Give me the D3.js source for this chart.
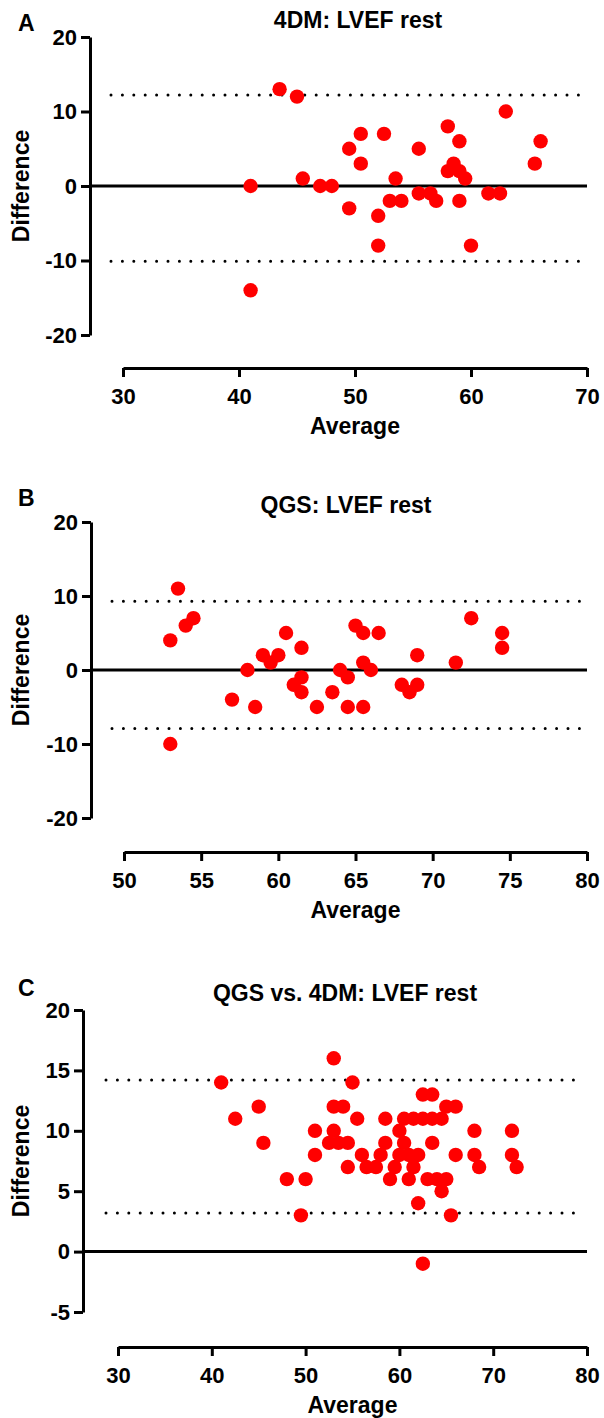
<!DOCTYPE html>
<html>
<head>
<meta charset="utf-8">
<script src="https://cdn.jsdelivr.net/npm/d3@7"></script>
<style>
  body { margin: 0; background: #fff; }
  svg text { font-family: "Liberation Sans", Arial, sans-serif; font-weight: bold; fill: #000; }
</style>
</head>
<body>
<svg id="chart" width="604" height="1418"></svg>
<script>
// A: 4DM LVEF rest
const avgA  = [41, 41, 43.5, 45, 45.5, 47, 48, 49.5, 49.5, 50.5, 50.5, 52, 52, 52.5, 53, 53.5, 54,
               55.5, 55.5, 56.5, 57, 58, 58, 58.5, 59, 59, 59, 59.5, 60, 61.5, 62.5, 63, 65.5, 66];
const diffA = [0, -14, 13, 12, 1, 0, 0, 5, -3, 7, 3, -4, -8, 7, -2, 1, -2,
               5, -1, -1, -2, 8, 2, 3, 6, 2, -2, 1, -8, -1, -1, 10, 3, 6];
const limitsA = [12.2, -10.1];
const xTicksA = [30, 40, 50, 60, 70];
const yTicksA = [-20, -10, 0, 10, 20];

// B: QGS LVEF rest
const avgB  = [53, 53, 53.5, 54, 54.5, 57, 58, 58.5, 59, 59.5, 60, 60.5, 61, 61.5, 61.5, 61.5, 62.5,
               63.5, 64, 64.5, 64.5, 65, 65.5, 65.5, 65.5, 66, 66.5, 68, 68.5, 69, 69, 71.5, 72.5, 74.5, 74.5];
const diffB = [4, -10, 11, 6, 7, -4, 0, -5, 2, 1, 2, 5, -2, 3, -1, -3, -5,
               -3, 0, -1, -5, 6, 5, 1, -5, 0, 5, -2, -3, 2, -2, 1, 7, 5, 3];
const limitsB = [9.3, -7.9];
const xTicksB = [50, 55, 60, 65, 70, 75, 80];
const yTicksB = [-20, -10, 0, 10, 20];

// C: QGS vs. 4DM LVEF rest
const avgC  = [41, 42.5, 45, 45.5, 48, 49.5, 50, 51, 51, 52.5, 53, 53, 53, 53.5, 54, 54.5, 54.5, 55,
               55.5, 56, 56.5, 57.5, 58, 58.5, 58.5, 59, 59.5, 60, 60, 60.5, 60.5, 61, 61, 61.5, 61.5,
               62, 62, 62.5, 62.5, 62.5, 63, 63.5, 63.5, 63.5, 64, 64.5, 64.5, 65, 65, 65.5, 66, 66,
               68, 68, 68.5, 72, 72, 72.5];
const diffC = [14, 11, 12, 9, 6, 3, 6, 10, 8, 9, 16, 12, 10, 9, 12, 9, 7, 14,
               11, 8, 7, 7, 8, 11, 9, 6, 7, 10, 8, 11, 9, 8, 6, 11, 7,
               8, 4, 13, 11, -1, 6, 13, 11, 9, 6, 11, 5, 12, 6, 3, 12, 8,
               10, 8, 7, 10, 8, 7];
const limitsC = [14.2, 3.2];
const xTicksC = [30, 40, 50, 60, 70, 80];
const yTicksC = [-5, 0, 5, 10, 15, 20];

const svg = d3.select("#chart");

function drawPanel(p) {
    const x = d3.scaleLinear().domain(d3.extent(p.xTicks)).range([p.xStart, p.xEnd]);
    const y = d3.scaleLinear().domain(d3.extent(p.yTicks)).range([p.bottom, p.top]);
    const g = svg.append("g");

    // panel letter + title
    g.append("text").attr("x", 18).attr("y", p.letterY + 8)
        .style("font-size", "23px").text(p.letter);
    g.append("text").attr("x", p.titleX).attr("y", p.titleY + 8)
        .attr("text-anchor", "middle").style("font-size", "23px").text(p.title);

    // y axis (plain hyphen for negatives, like the original)
    const ya = g.append("g").attr("transform", "translate(" + p.left + ",0)")
        .call(d3.axisLeft(y).tickValues(p.yTicks).tickFormat(d => String(d))
            .tickSize(9).tickSizeOuter(0).tickPadding(4));
    // x axis
    const xa = g.append("g").attr("transform", "translate(0," + p.xAxisY + ")")
        .call(d3.axisBottom(x).tickValues(p.xTicks).tickFormat(d => String(d))
            .tickSize(9).tickSizeOuter(0).tickPadding(11));
    [ya, xa].forEach(a => {
        a.selectAll("path, line").attr("stroke", "#000").attr("stroke-width", 3);
        a.selectAll("text").style("font-size", "22px").attr("fill", "#000");
    });

    // zero line
    g.append("line")
        .attr("x1", p.left).attr("x2", p.xEnd)
        .attr("y1", y(0)).attr("y2", y(0))
        .attr("stroke", "#000").attr("stroke-width", 3);

    // limits of agreement
    g.selectAll("line.loa").data(p.limits).join("line")
        .attr("class", "loa")
        .attr("x1", p.xStart - 12).attr("x2", p.xEnd - 4)
        .attr("y1", d => y(d)).attr("y2", d => y(d))
        .attr("stroke", "#000").attr("stroke-width", 3)
        .attr("stroke-linecap", "round")
        .attr("stroke-dasharray", "0 11.4");

    // points
    g.selectAll("circle").data(p.avg.map((a, i) => [a, p.diff[i]])).join("circle")
        .attr("cx", d => x(d[0])).attr("cy", d => y(d[1]))
        .attr("r", 7.2).attr("fill", "#ff0000");

    // axis titles
    g.append("text")
        .attr("transform", "translate(29," + ((p.top + p.bottom) / 2) + ") rotate(-90)")
        .attr("text-anchor", "middle").style("font-size", "23px").text("Difference");
    g.append("text")
        .attr("x", (p.xStart + p.xEnd) / 2).attr("y", p.xAxisY + 66)
        .attr("text-anchor", "middle").style("font-size", "23px").text("Average");
}

drawPanel({ letter: "A", letterY: 23, title: "4DM: LVEF rest", titleX: 358, titleY: 20,
    avg: avgA, diff: diffA, limits: limitsA, xTicks: xTicksA, yTicks: yTicksA,
    left: 90, top: 37, bottom: 335, xStart: 123, xEnd: 587, xAxisY: 368 });

drawPanel({ letter: "B", letterY: 498, title: "QGS: LVEF rest", titleX: 346, titleY: 505,
    avg: avgB, diff: diffB, limits: limitsB, xTicks: xTicksB, yTicks: yTicksB,
    left: 91, top: 522, bottom: 818, xStart: 124, xEnd: 587, xAxisY: 852 });

drawPanel({ letter: "C", letterY: 988, title: "QGS vs. 4DM: LVEF rest", titleX: 345, titleY: 993,
    avg: avgC, diff: diffC, limits: limitsC, xTicks: xTicksC, yTicks: yTicksC,
    left: 83, top: 1010, bottom: 1312, xStart: 118, xEnd: 587, xAxisY: 1347 });
</script>
</body>
</html>
